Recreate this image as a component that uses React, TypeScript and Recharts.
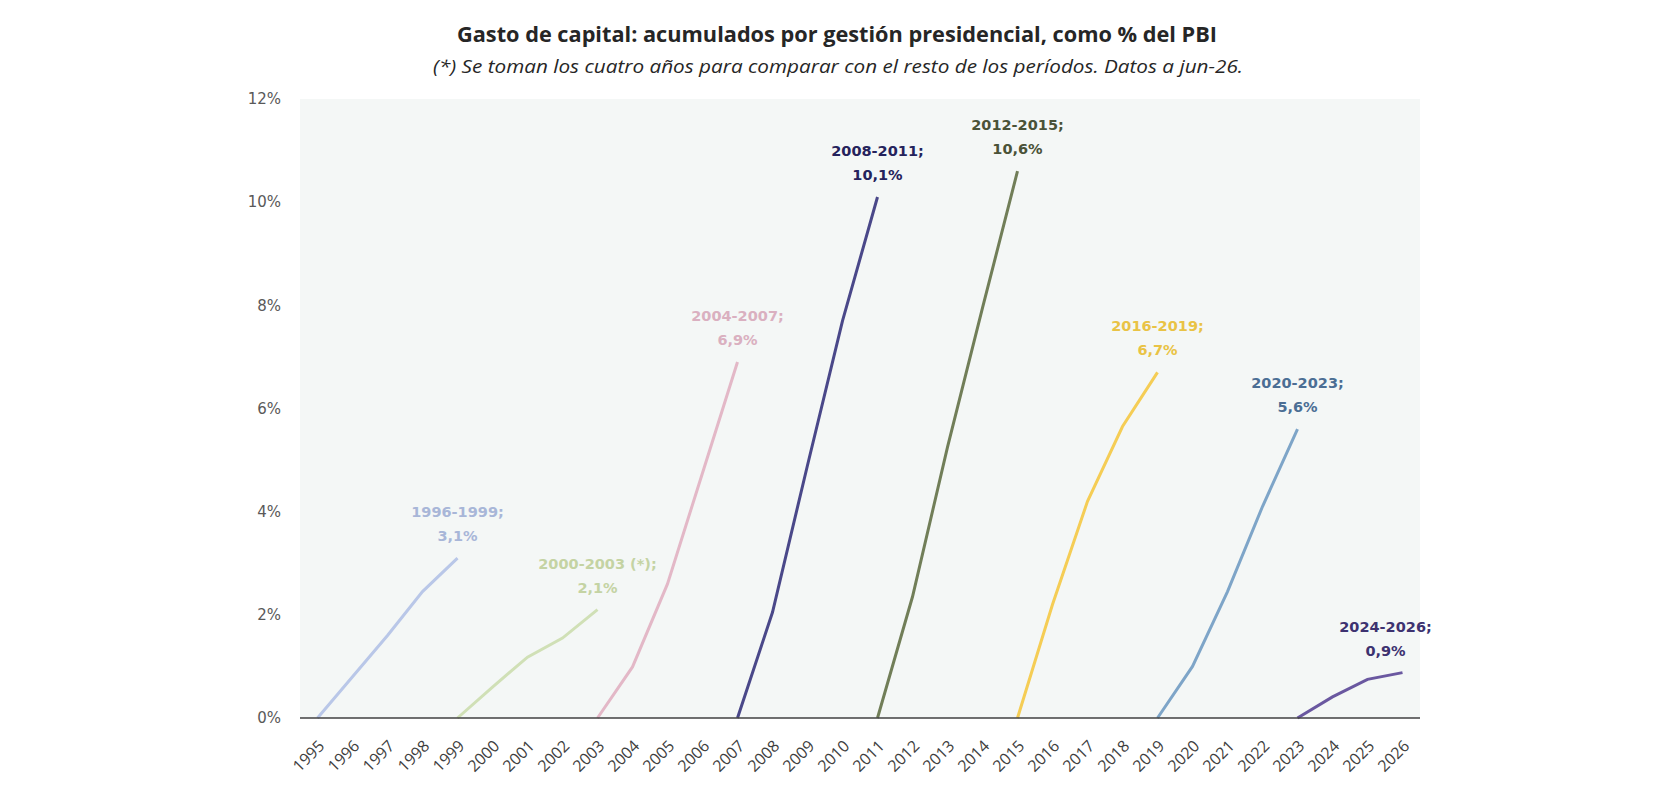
import React from "react";
import { LineChart, Line, XAxis, YAxis, CartesianGrid } from "recharts";

const years = [
  "1995", "1996", "1997", "1998", "1999", "2000", "2001", "2002", "2003", "2004", "2005",
  "2006", "2007", "2008", "2009", "2010", "2011", "2012", "2013", "2014", "2015", "2016",
  "2017", "2018", "2019", "2020", "2021", "2022", "2023", "2024", "2025", "2026",
];

const yTicks = [0, 2, 4, 6, 8, 10, 12];

// each period: name, first year (value 0), cumulative values
const p1Values = [0, 0.8, 1.6, 2.45, 3.1];
const p2Values = [0, 0.6, 1.18, 1.55, 2.1];
const p3Values = [0, 0.99, 2.6, 4.75, 6.9];
const p4Values = [0, 2.05, 4.9, 7.7, 10.1];
const p5Values = [0, 2.35, 5.25, 7.95, 10.6];
const p6Values = [0, 2.2, 4.2, 5.65, 6.7];
const p7Values = [0, 1.0, 2.45, 4.1, 5.6];
const p8Values = [0, 0.41, 0.75, 0.88];

const periodNames = [
  "1996-1999", "2000-2003 (*)", "2004-2007", "2008-2011",
  "2012-2015", "2016-2019", "2020-2023", "2024-2026",
];
const periodStarts = ["1995", "1999", "2003", "2007", "2011", "2015", "2019", "2023"];
const periodLabels = ["3,1%", "2,1%", "6,9%", "10,1%", "10,6%", "6,7%", "5,6%", "0,9%"];
const periodValues = [p1Values, p2Values, p3Values, p4Values, p5Values, p6Values, p7Values, p8Values];

const lineColors = ["#b9c7e8", "#d0e0b6", "#e3b8c7", "#4a4889", "#717e58", "#f5cd55", "#7ea5c8", "#6a58a0"];
const labelColors = ["#a8b6d8", "#c4d3a3", "#dab0c0", "#25235c", "#4a5238", "#e9c345", "#4b6e94", "#3d3270"];
const labelDx = [0, 0, 0, 0, 0, 0, 0, -17];

const data = years.map((yr) => {
  const row: Record<string, any> = { year: yr };
  periodValues.forEach((vals, i) => {
    const startIdx = years.indexOf(periodStarts[i]);
    const idx = years.indexOf(yr) - startIdx;
    row["s" + i] = idx >= 0 && idx < vals.length ? vals[idx] : null;
  });
  return row;
});

const makeLabel = (i: number) => (props: any) => {
  const lastIdx = years.indexOf(periodStarts[i]) + periodValues[i].length - 1;
  if (props.index !== lastIdx || props.x == null || props.y == null) return <g />;
  const cx = props.x + labelDx[i];
  return (
    <g>
      <text
        x={cx}
        y={props.y - 41}
        textAnchor="middle"
        fill={labelColors[i]}
        fontFamily="DejaVu Sans"
        fontWeight="bold"
        fontSize={14.5}
      >
        {periodNames[i] + ";"}
      </text>
      <text
        x={cx}
        y={props.y - 17}
        textAnchor="middle"
        fill={labelColors[i]}
        fontFamily="DejaVu Sans"
        fontWeight="bold"
        fontSize={14.5}
      >
        {periodLabels[i]}
      </text>
    </g>
  );
};

const XTick = (props: any) => {
  const { x, y, payload } = props;
  return (
    <g transform={`translate(${x + 4},${y + 25})`}>
      <text
        x={0}
        y={0}
        dy="0.35em"
        textAnchor="end"
        transform="rotate(-45)"
        fill="#404040"
        fontFamily="Open Sans"
        fontSize={16}
      >
        {payload.value}
      </text>
    </g>
  );
};

export default function App() {
  return (
    <div style={{ position: "relative", width: 1664, height: 788, margin: -8, background: "#fff" }}>
      <svg
        width={1664}
        height={90}
        style={{ position: "absolute", left: 0, top: 0, pointerEvents: "none" }}
      >
        <text
          x={837}
          y={42}
          textAnchor="middle"
          fontFamily="Open Sans"
          fontWeight="bold"
          fontSize={21}
          fill="#262626"
          textLength={760}
          lengthAdjust="spacingAndGlyphs"
        >
          Gasto de capital: acumulados por gestión presidencial, como % del PBI
        </text>
        <text
          x={838}
          y={73}
          textAnchor="middle"
          fontFamily="Open Sans"
          fontStyle="italic"
          fontSize={19}
          fill="#262626"
          textLength={810}
          lengthAdjust="spacingAndGlyphs"
        >
          (*) Se toman los cuatro años para comparar con el resto de los períodos. Datos a jun-26.
        </text>
      </svg>
      <div style={{ position: "absolute", left: 0, top: 0 }}>
        <LineChart
          width={1664}
          height={788}
          data={data}
          margin={{ top: 99, right: 244, bottom: 20, left: 240 }}
        >
          <CartesianGrid horizontal={false} vertical={false} fill="#f4f7f6" />
          <XAxis
            dataKey="year"
            type="category"
            interval={0}
            height={50}
            padding={{ left: 17.5, right: 17.5 }}
            axisLine={{ stroke: "#404040", strokeWidth: 1.5 }}
            tickLine={false}
            tickSize={0}
            tickMargin={0}
            tick={<XTick />}
          />
          <YAxis
            width={60}
            domain={[0, 12]}
            ticks={yTicks}
            tickFormatter={(v: number) => `${v}%`}
            axisLine={false}
            tickLine={false}
            tickSize={0}
            tickMargin={19}
            tick={{ fill: "#595959", fontFamily: "DejaVu Sans", fontSize: 15 }}
          />
          {periodValues.map((_, i) => (
            <Line
              key={i}
              type="linear"
              dataKey={"s" + i}
              stroke={lineColors[i]}
              strokeWidth={3}
              dot={false}
              activeDot={false}
              connectNulls={false}
              isAnimationActive={false}
              label={makeLabel(i)}
            />
          ))}
        </LineChart>
      </div>
    </div>
  );
}
